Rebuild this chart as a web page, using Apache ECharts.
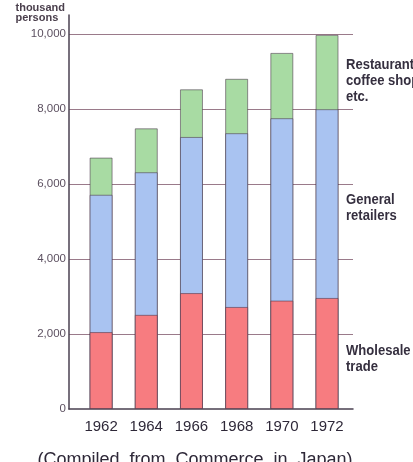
<!DOCTYPE html>
<html>
<head>
<meta charset="utf-8">
<script src="https://cdn.jsdelivr.net/npm/echarts@6/dist/echarts.min.js"></script>
<style>
  html, body { margin: 0; padding: 0; background: #fff; }
  #main { width: 413px; height: 462px; }
</style>
</head>
<body>
<div id="main"></div>
<script>
// thousand persons
var years = [1962, 1964, 1966, 1968, 1970, 1972];
var wholesale = [2050, 2510, 3090, 2720, 2890, 2960];
var general = [3660, 3800, 4160, 4630, 4860, 5030];
var restaurants = [990, 1170, 1270, 1450, 1740, 1980];
var yTicks = [0, 2000, 4000, 6000, 8000, 10000];

var sans = '"Liberation Sans", Arial, sans-serif';
var textColor = '#2e2838';

// the x axis is a value axis (so the bars sit where they do in the picture),
// stacking is done here: each layer drawn as its running total, lower layers on top
var layers = [wholesale, general, restaurants];
function runningTotal(n) {
  return years.map(function (y, i) {
    var s = 0;
    for (var k = 0; k <= n; k++) s += layers[k][i];
    return [y, s];
  });
}

var chart = echarts.init(document.getElementById('main'), null, { renderer: 'canvas' });

function barSeries(name, n, color) {
  return {
    name: name,
    type: 'bar',
    barWidth: 23,
    barGap: '-100%',
    data: runningTotal(n),
    itemStyle: {
      color: color,
      borderColor: 'rgba(70,50,70,0.55)',
      borderWidth: 1
    },
    emphasis: { disabled: true }
  };
}

function sideLabel(txt, top) {
  return {
    type: 'text', left: 346, top: top, scaleX: 0.87,
    style: { text: txt, font: 'bold 15px ' + sans, fill: '#352f3f', lineHeight: 16 }
  };
}

var option = {
  animation: false,
  backgroundColor: '#fff',
  grid: { left: 69, right: 60, top: 15, bottom: 53 },
  xAxis: {
    type: 'value',
    min: 1960.58,
    max: 1973.15,
    splitNumber: 6,
    splitLine: { show: false },
    axisTick: { show: false },
    axisLine: { show: true, lineStyle: { color: '#4a4050', width: 1.5 } },
    axisLabel: {
      showMinLabel: false,
      showMaxLabel: false,
      margin: 10,
      color: textColor,
      fontFamily: sans,
      fontSize: 15,
      formatter: function (v) {
        return years.indexOf(Math.round(v)) >= 0 && Math.abs(v - Math.round(v)) < 1e-6 ? String(Math.round(v)) : '';
      }
    }
  },
  yAxis: {
    type: 'value',
    min: 0,
    max: 10500,
    interval: 2000,
    axisLine: { show: true, lineStyle: { color: '#4a4050', width: 1.5 } },
    axisTick: { show: false },
    splitLine: {
      show: true,
      showMinLine: false,
      showMaxLine: false,
      lineStyle: { color: '#9a7a8a', width: 1 }
    },
    axisLabel: {
      showMaxLabel: false,
      margin: 3,
      color: '#5c5060',
      fontFamily: sans,
      fontSize: 11.5,
      formatter: function (v) {
        return yTicks.indexOf(v) >= 0 ? v.toLocaleString('en-US') : '';
      }
    }
  },
  title: {
    text: '(Compiled  from  Commerce  in  Japan)',
    left: 190,
    textAlign: 'center',
    top: 446,
    textStyle: {
      color: textColor,
      fontFamily: sans,
      fontWeight: 'normal',
      fontSize: 18
    }
  },
  graphic: [
    {
      type: 'text', right: 348, top: 2,
      style: {
        text: 'thousand\npersons', align: 'right',
        font: 'bold 11px ' + sans, fill: '#4a3f4c', lineHeight: 10
      }
    },
    sideLabel('Restaurants,\ncoffee shops\netc.', 57),
    sideLabel('General\nretailers', 192),
    sideLabel('Wholesale\ntrade', 343)
  ],
  // drawn top layer first so the lower layers paint over it
  series: [
    barSeries('Restaurants, coffee shops etc.', 2, '#a8dba3'),
    barSeries('General retailers', 1, '#a9c3f1'),
    barSeries('Wholesale trade', 0, '#f77c80')
  ]
};

chart.setOption(option);
</script>
</body>
</html>
